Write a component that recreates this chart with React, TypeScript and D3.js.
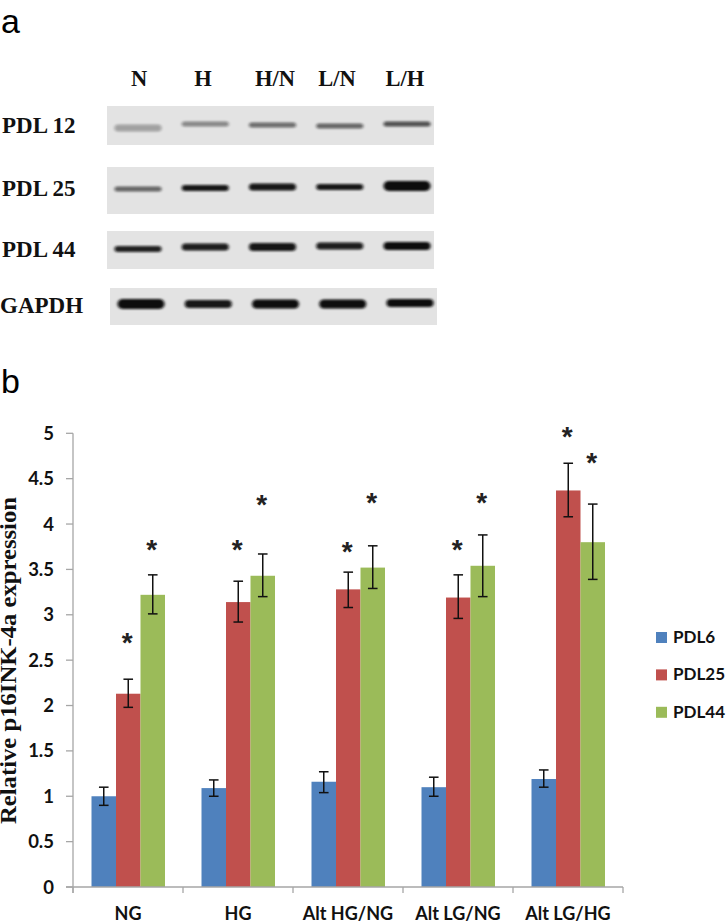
import React from "react";
import * as d3 from "d3";

const W = 726, H = 923;
const categories = ["NG", "HG", "Alt HG/NG", "Alt LG/NG", "Alt LG/HG"];
const seriesNames = ["PDL6", "PDL25", "PDL44"];
const colors = ["#4f81bd", "#c0504d", "#9bbb59"];
const pdl6 = [1.0, 1.09, 1.16, 1.1, 1.19];
const pdl25 = [2.13, 3.14, 3.28, 3.19, 4.37];
const pdl44 = [3.22, 3.43, 3.52, 3.54, 3.8];
const pdl6Hi = [1.1, 1.18, 1.27, 1.21, 1.29];
const pdl6Lo = [0.9, 1.0, 1.04, 1.0, 1.1];
const pdl25Hi = [2.29, 3.37, 3.47, 3.44, 4.67];
const pdl25Lo = [1.98, 2.92, 3.08, 2.96, 4.08];
const pdl44Hi = [3.44, 3.67, 3.76, 3.88, 4.22];
const pdl44Lo = [3.01, 3.2, 3.29, 3.2, 3.39];
const pdl25Star = [2.74, 3.76, 3.74, 3.76, 5.01];
const pdl44Star = [3.76, 4.26, 4.28, 4.28, 4.72];
const yTicks = ["0", "0.5", "1", "1.5", "2", "2.5", "3", "3.5", "4", "4.5", "5"];

const lanes = ["N", "H", "H/N", "L/N", "L/H"];
const blotNames = ["PDL 12", "PDL 25", "PDL 44", "GAPDH"];
const blotDark12 = [0.3, 0.42, 0.55, 0.58, 0.68];
const blotDark25 = [0.58, 0.95, 0.95, 0.95, 1];
const blotDark44 = [0.9, 0.92, 0.95, 0.92, 1];
const blotDarkG = [1, 0.95, 1, 1, 1];
const blotThick12 = [7, 5, 5, 5, 5];
const blotThick25 = [5, 6, 7, 6, 10];
const blotThick44 = [6, 7, 8, 7, 8];
const blotThickG = [10, 8, 9, 9, 8];

const x0 = d3.scaleBand().domain(categories).range([73, 623]);
const y = d3.scaleLinear().domain([0, 5]).range([887, 433.3]);
const xs = d3.scaleBand().domain(seriesNames).range([18.5, 92]);
const laneX = d3.scalePoint().domain(lanes).range([138, 407]);
const laneLabelX = d3.scaleOrdinal<string, number>().domain(lanes).range([139, 203, 275, 337, 405]);

const panels = [
  { name: blotNames[0], x: 107, y0: 106, y1: 145, cy: [128, 124, 125, 126, 124], dark: blotDark12, thick: blotThick12, labelY: 133, labelX: 2 },
  { name: blotNames[1], x: 107, y0: 167, y1: 214, cy: [189, 188, 187, 187, 186], dark: blotDark25, thick: blotThick25, labelY: 196, labelX: 2 },
  { name: blotNames[2], x: 107, y0: 231, y1: 269, cy: [249, 247, 247, 246, 246], dark: blotDark44, thick: blotThick44, labelY: 257, labelX: 2 },
  { name: blotNames[3], x: 110, y0: 288, y1: 325, cy: [304, 304, 304, 304, 303], dark: blotDarkG, thick: blotThickG, labelY: 313, labelX: 0 },
];

const serif = "'Liberation Serif', serif";
const lato = "Lato, sans-serif";
const series = [
  { v: pdl6, hi: pdl6Hi, lo: pdl6Lo, star: null as number[] | null },
  { v: pdl25, hi: pdl25Hi, lo: pdl25Lo, star: pdl25Star },
  { v: pdl44, hi: pdl44Hi, lo: pdl44Lo, star: pdl44Star },
];

export default function App() {
  return (
    <svg width={W} height={H} viewBox={`0 0 ${W} ${H}`} style={{ position: "absolute", left: 0, top: 0, background: "#fff" }}>
      <defs>
        <filter id="soft" x="-20%" y="-150%" width="140%" height="400%"><feGaussianBlur stdDeviation="1.5 1.2" /></filter>
        <filter id="panelSoft" x="-2%" y="-5%" width="104%" height="110%"><feGaussianBlur stdDeviation="0.5" /></filter>
      </defs>
      <text x={1} y={33} fontFamily="'Liberation Sans', sans-serif" fontSize={34}>a</text>
      <text x={1} y={393} fontFamily="'Liberation Sans', sans-serif" fontSize={34}>b</text>

      {lanes.map((l) => (
        <text key={l} x={laneLabelX(l)} y={86} textAnchor="middle" fontFamily={serif} fontWeight="bold" fontSize={22.5} fill="#111">{l}</text>
      ))}
      {panels.map((p) => (
        <g key={p.name}>
          <rect x={p.x} y={p.y0} width={327} height={p.y1 - p.y0} fill="#e3e3e3" filter="url(#panelSoft)" />
          <text x={p.labelX} y={p.labelY} fontFamily={serif} fontWeight="bold" fontSize={23} fill="#111">{p.name}</text>
          {lanes.map((l, i) => (
            <rect key={l} x={(laneX(l) as number) + (p.x - 107) - 23.5} y={p.cy[i] - p.thick[i] / 2} width={47} height={p.thick[i]} rx={p.thick[i] / 2}
              fill="#0c0c0c" opacity={p.dark[i]} filter="url(#soft)" />
          ))}
        </g>
      ))}

      <text transform="translate(16,824) rotate(-90)" textLength={327} lengthAdjust="spacingAndGlyphs" fontFamily={serif} fontWeight="bold" fontSize={24} fill="#111">Relative p16INK-4a expression</text>

      {categories.map((c, i) => (
        <g key={c}>
          {series.map((s, k) => {
            const bx = (x0(c) as number) + (xs(seriesNames[k]) as number);
            return <rect key={k} x={bx} y={y(s.v[i])} width={xs.bandwidth()} height={887 - y(s.v[i])} fill={colors[k]} />;
          })}
        </g>
      ))}

      <g stroke="#a6a6a6" strokeWidth={1.3} fill="none">
        <line x1={73} x2={73} y1={y(5)} y2={893} />
        <line x1={66} x2={623} y1={887} y2={887} />
        {yTicks.map((t) => <line key={t} x1={66} x2={73} y1={y(+t)} y2={y(+t)} />)}
        {[...categories.map((c) => x0(c) as number), 623].map((v) => <line key={v} x1={v} x2={v} y1={887} y2={893} />)}
      </g>

      {categories.map((c, i) => (
        <g key={c}>
          {series.map((s, k) => {
            const bx = (x0(c) as number) + (xs(seriesNames[k]) as number) + xs.bandwidth() / 2;
            const cap = 4.8;
            return (
              <g key={k}>
                <g stroke="#111" strokeWidth={1.5}>
                  <line x1={bx} x2={bx} y1={y(s.hi[i])} y2={y(s.lo[i])} />
                  <line x1={bx - cap} x2={bx + cap} y1={y(s.hi[i])} y2={y(s.hi[i])} />
                  <line x1={bx - cap} x2={bx + cap} y1={y(s.lo[i])} y2={y(s.lo[i])} />
                </g>
                {s.star && (
                  <text x={bx - 1} y={y(s.star[i]) + 13.5} textAnchor="middle" fontFamily="'Liberation Sans', sans-serif" fontWeight="bold" fontSize={28} fill="#222">*</text>
                )}
              </g>
            );
          })}
          <text x={(x0(c) as number) + 55} y={920} textAnchor="middle" fontFamily={lato} fontWeight="bold" fontSize={18} fill="#111">{c}</text>
        </g>
      ))}

      {yTicks.map((t) => (
        <text key={t} x={54} y={y(+t) + 6.5} textAnchor="end" fontFamily={lato} fontWeight="bold" fontSize={18.5} fill="#111">{t}</text>
      ))}

      {seriesNames.map((n, k) => (
        <g key={n}>
          <rect x={656} y={632 + k * 37.4} width={11} height={11} fill={colors[k]} />
          <text x={673} y={643 + k * 37.4} fontFamily={lato} fontWeight="bold" fontSize={17} fill="#111">{n}</text>
        </g>
      ))}
    </svg>
  );
}
